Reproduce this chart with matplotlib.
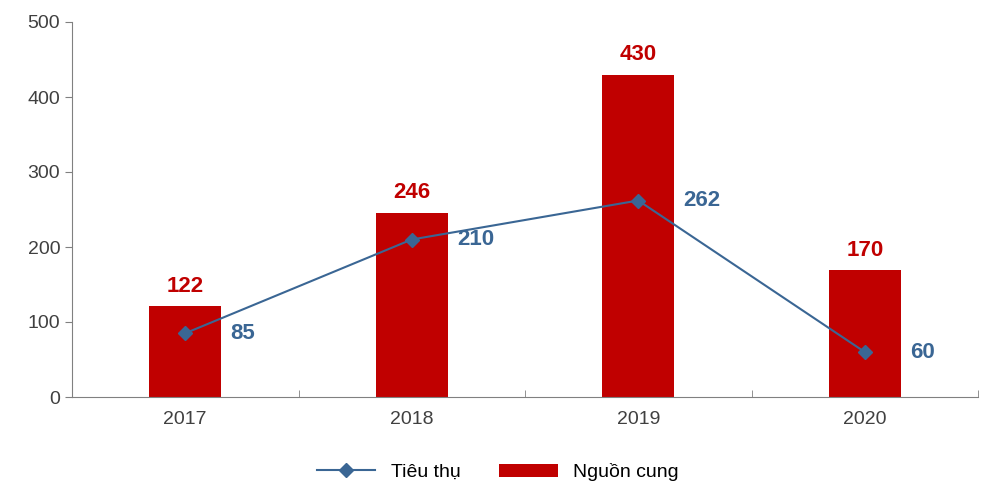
import matplotlib
matplotlib.use("Agg")
import matplotlib.pyplot as plt
import numpy as np

years = ["2017", "2018", "2019", "2020"]
supply = [122, 246, 430, 170]
consumption = [85, 210, 262, 60]

plt.rcParams['font.family'] = ['Liberation Sans', 'DejaVu Sans']
fig = plt.figure(figsize=(10, 5), dpi=100)
ax = fig.add_axes([0.072, 0.206, 0.906, 0.75])
x = np.arange(len(years))
red = "#C00000"
blue = "#3A6694"
ax.bar(x, supply, width=0.32, color=red, label="Nguồn cung", zorder=2)
ax.plot(x, consumption, color=blue, marker="D", markersize=7, lw=1.5, label="Tiêu thụ", zorder=3)
for i in range(len(x)):
    ax.text(x[i], supply[i] + 12, str(supply[i]), ha="center", va="bottom", color=red,
            fontsize=16, fontweight="bold")
    ax.text(x[i] + 0.2, consumption[i], str(consumption[i]), ha="left", va="center", color=blue,
            fontsize=16, fontweight="bold")
ax.set_xlim(-0.5, 3.5)
ax.set_ylim(0, 500)
ax.set_yticks(range(0, 501, 100))
ax.set_xticks(x)
ax.set_xticklabels(years)
ax.set_xticks(np.arange(-0.5, 3.6, 1), minor=True)
ax.tick_params(axis="x", which="major", length=0, labelsize=14, colors="#404040", pad=10)
ax.tick_params(axis="x", which="minor", length=5, direction="in", color="#808080")
ax.tick_params(axis="y", length=5, labelsize=14, colors="#404040", color="#808080")
for s in ["top", "right"]:
    ax.spines[s].set_visible(False)
for s in ["left", "bottom"]:
    ax.spines[s].set_color("#808080")
ax.legend(loc="upper center", bbox_to_anchor=(0.47, -0.13), ncol=2, frameon=False,
          fontsize=14, handlelength=3, columnspacing=2)
fig.savefig("out.png")
